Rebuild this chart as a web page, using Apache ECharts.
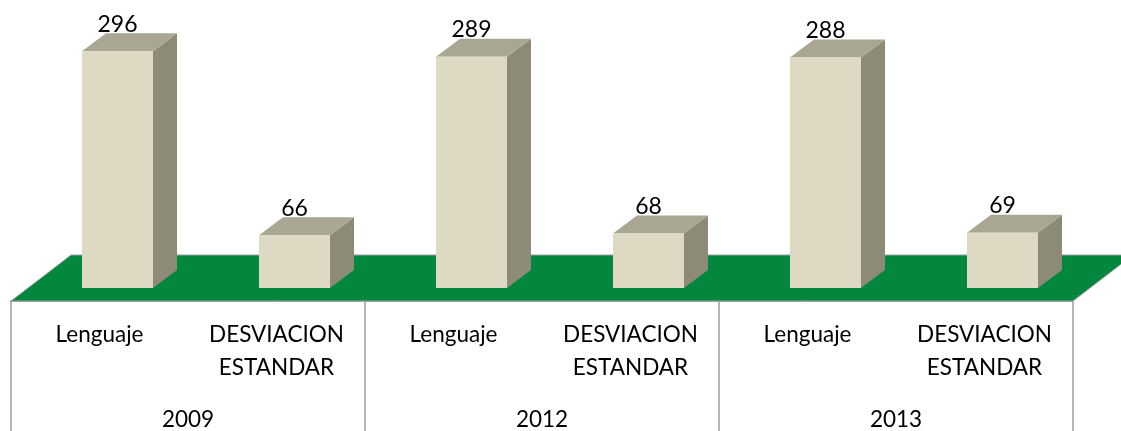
<!DOCTYPE html>
<html><head><meta charset="utf-8">
<style>html,body{margin:0;padding:0;background:#fff}#c{width:1121px;height:431px}</style>
<script src="https://cdn.jsdelivr.net/npm/echarts@6/dist/echarts.min.js"></script>
</head><body><div id="c"></div>
<script>
const years = ['2009','2012','2013'];
const measures = ['Lenguaje','DESVIACION\nESTANDAR'];
const lenguaje = [296,289,288];
const desviacion = [66,68,69];

const categories = [];
const values = [];
years.forEach((y,i)=>{
  categories.push(measures[0]); values.push(lenguaje[i]);
  categories.push(measures[1]); values.push(desviacion[i]);
});

const DX = 24, DY = -18, BAR_W = 71;
const FLOOR_DX = 60, FLOOR_DY = -46;
const FRONT='#DDD9C3', TOP='#A9A693', SIDE='#8D8A77', FLOOR='#03863D', EDGE='#A0A0A0';
const FONT='Lato, Carlito, "Open Sans", sans-serif';

function renderBar(params, api){
  const idx = api.value(0), v = api.value(1);
  const top = api.coord([idx, v]);
  const base = api.coord([idx, 0]);
  const l = top[0]-BAR_W/2, r = top[0]+BAR_W/2, t = top[1], b = base[1];
  return {type:'group', children:[
    {type:'polygon', shape:{points:[[r,t],[r+DX,t+DY],[r+DX,b+DY],[r,b]]}, style:{fill:SIDE}},
    {type:'polygon', shape:{points:[[l,t],[l+DX,t+DY],[r+DX,t+DY],[r,t]]}, style:{fill:TOP}},
    {type:'rect', shape:{x:l,y:t,width:BAR_W,height:b-t}, style:{fill:FRONT}},
    {type:'text', x:top[0], y:t-27, z2:10, style:{text:String(v), fill:'#000', font:'23px '+FONT, align:'center', verticalAlign:'middle'}}
  ]};
}
function renderFloor(params){
  const c = params.coordSys, l=c.x, r=c.x+c.width, y=c.y+c.height;
  return {type:'polygon', shape:{points:[[l,y],[l+FLOOR_DX,y+FLOOR_DY],[r+FLOOR_DX,y+FLOOR_DY],[r,y]]},
    style:{fill:FLOOR, stroke:EDGE, lineWidth:1}};
}

const chart = echarts.init(document.getElementById('c'), null, {renderer:'canvas'});
chart.setOption({
  animation:false,
  backgroundColor:'#fff',
  grid:[
    {left:29, width:1062, top:48, height:240},
    {left:11, width:1062, top:300, height:1}
  ],
  xAxis:[
    {gridIndex:0, type:'category', data:categories, show:false},
    {gridIndex:1, type:'category', data:categories, position:'bottom',
      axisLine:{show:false}, axisTick:{show:false},
      axisLabel:{interval:0, margin:17, color:'#000', fontFamily:'Lato, Carlito, "Open Sans", sans-serif', fontSize:22.5, lineHeight:33, verticalAlign:'top'}},
    {gridIndex:1, type:'category', data:years, position:'bottom',
      axisLine:{show:true, lineStyle:{color:EDGE, width:2}},
      axisTick:{show:true, length:130, lineStyle:{color:EDGE, width:1.5}},
      axisLabel:{interval:0, margin:107, color:'#000', fontFamily:'Lato, Carlito, "Open Sans", sans-serif', fontSize:22.5, verticalAlign:'top'}}
  ],
  yAxis:[
    {gridIndex:0, type:'value', min:0, max:300, show:false},
    {gridIndex:1, type:'value', min:0, max:1, show:false}
  ],
  series:[
    {type:'custom', xAxisIndex:1, yAxisIndex:1, clip:false, z:1, silent:true, renderItem:renderFloor, data:[[0,0]]},
    {type:'custom', xAxisIndex:0, yAxisIndex:0, clip:false, z:2, silent:true, renderItem:renderBar,
      encode:{x:0,y:1}, data:values.map((v,i)=>[i,v])}
  ]
});
</script></body></html>
